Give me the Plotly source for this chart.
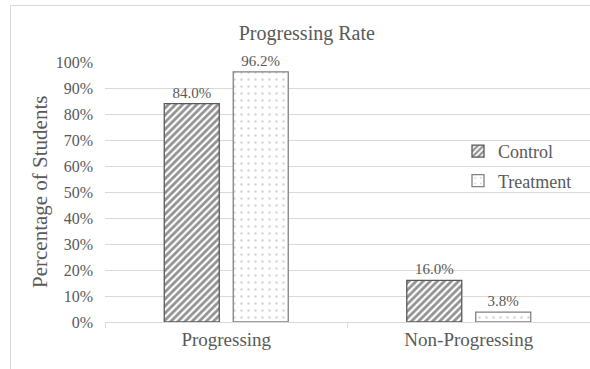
import plotly.graph_objects as go

categories = ["Progressing", "Non-Progressing"]
control = [0.840, 0.160]
treatment = [0.962, 0.038]
tick_vals = [0, 0.1, 0.2, 0.3, 0.4, 0.5, 0.6, 0.7, 0.8, 0.9, 1.0]
tick_text = ["0%", "10%", "20%", "30%", "40%", "50%", "60%", "70%", "80%", "90%", "100%"]

FONT = "Liberation Serif, Times New Roman, serif"
TXT = "#595959"
GRID = "#d9d9d9"

fig = go.Figure()
fig.add_bar(
    name="Control", x=categories, y=control, legendgroup="c",
    text=[f"{v*100:.1f}%" for v in control], textposition="outside",
    textfont=dict(family=FONT, size=15, color=TXT),
    marker=dict(color="white", line=dict(color="#595959", width=1.3),
                pattern=dict(shape="/", fgcolor="#262626", bgcolor="white",
                             size=5, solidity=0.55)),
    cliponaxis=False,
)
fig.add_bar(
    name="Treatment", x=categories, y=treatment, legendgroup="t",
    text=[f"{v*100:.1f}%" for v in treatment], textposition="outside",
    textfont=dict(family=FONT, size=15, color=TXT),
    marker=dict(color="white", line=dict(color="#808080", width=1.3),
                pattern=dict(shape=".", fgcolor="#a8a8a8", bgcolor="white",
                             size=7, solidity=0.1)),
    cliponaxis=False,
)

fig.update_layout(
    width=590, height=369,
    margin=dict(l=105, r=0, t=62, b=47),
    paper_bgcolor="white", plot_bgcolor="white",
    barmode="group", bargap=0.431, bargroupgap=0.203,
    font=dict(family=FONT, color=TXT),
    title=dict(text="Progressing Rate", x=0.52, xanchor="center",
               y=1 - 33/369, yanchor="middle",
               font=dict(family=FONT, size=20, color=TXT)),
    showlegend=True,
    legend=dict(x=(458-105)/485, y=(322-133)/260, xanchor="left", yanchor="top",
                yref="paper", font=dict(family=FONT, size=18, color=TXT),
                bgcolor="rgba(0,0,0,0)", tracegroupgap=3, itemwidth=30),
    xaxis=dict(showgrid=False, showline=True, linecolor=GRID, linewidth=1,
               ticks="outside", tickson="boundaries", ticklen=5, tickcolor=GRID,
               tickfont=dict(family=FONT, size=19, color=TXT)),
    yaxis=dict(range=[0, 1.0], tickvals=tick_vals, ticktext=tick_text,
               showgrid=True, gridcolor=GRID, gridwidth=1, zeroline=False,
               showline=False, tickfont=dict(family=FONT, size=16, color=TXT),
               ticklabelstandoff=11),
    annotations=[dict(text="Percentage of Students", textangle=-90,
                      xref="paper", yref="paper", x=(40-105)/485, y=(322-192)/260,
                      xanchor="center", yanchor="middle", showarrow=False,
                      font=dict(family=FONT, size=21, color=TXT))],
    shapes=[dict(type="rect", xref="paper", yref="paper",
                 x0=(10.5-105)/485, x1=1.05, y0=-0.3, y1=(322-5.5)/260,
                 line=dict(color=GRID, width=1), layer="below")],
)

fig.write_html("out.html")
